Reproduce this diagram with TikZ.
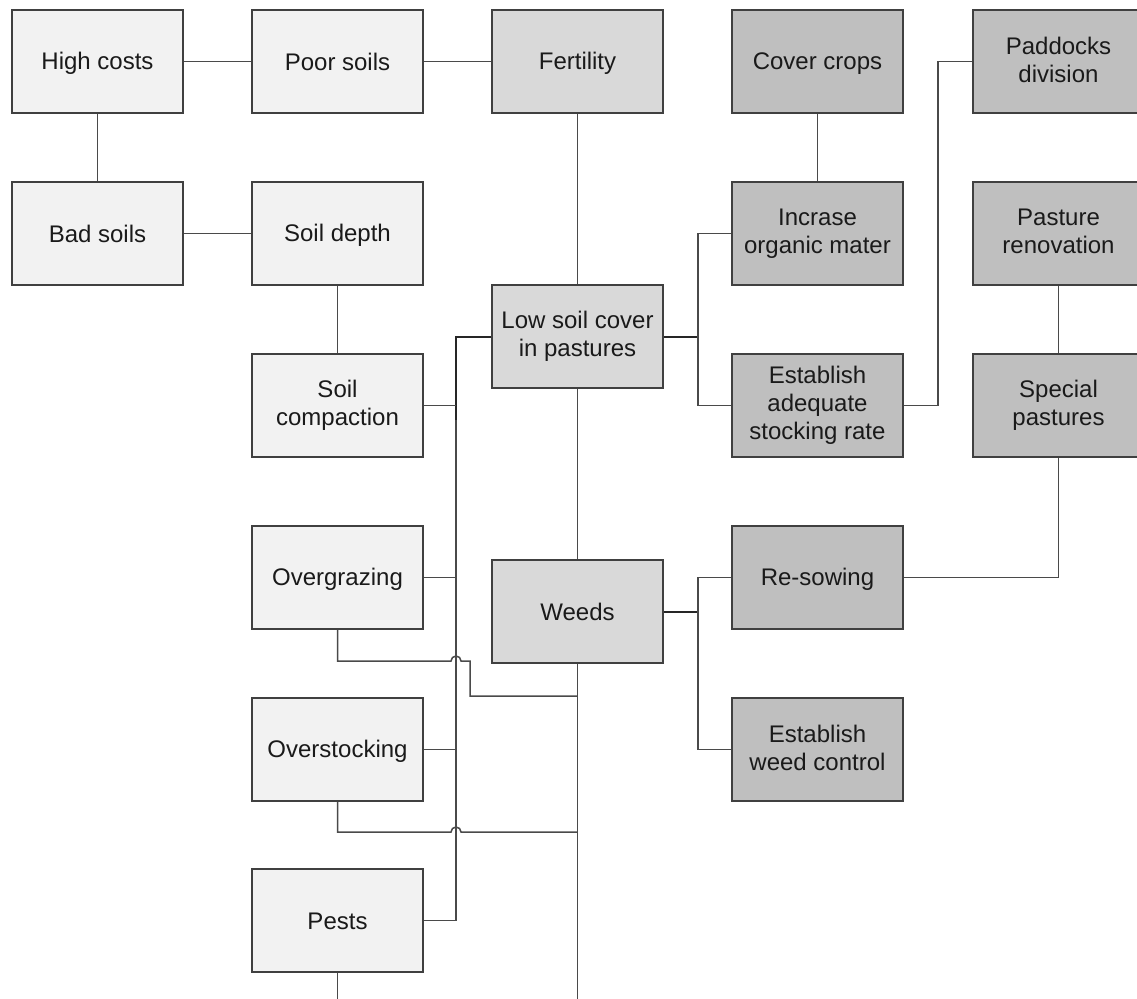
\documentclass[tikz,border=0pt]{standalone}
\usepackage{fontspec}
\setmainfont{Liberation Sans}
\definecolor{lightfill}{HTML}{F2F2F2}
\definecolor{midfill}{HTML}{D9D9D9}
\definecolor{darkfill}{HTML}{BFBFBF}
\definecolor{edge}{HTML}{404040}
\definecolor{wire}{HTML}{4A4A4A}
\definecolor{ink}{HTML}{1A1A1A}
\newcommand{\bxstrut}{\rule[-4pt]{0pt}{25.2pt}}
\tikzset{
  basebox/.style={draw=edge, line width=2pt, rectangle, minimum width=171pt, minimum height=103pt,
    inner sep=0pt, align=center, text=ink, font=\fontsize{24}{28}\selectfont,
    execute at begin node={\bxstrut}, execute at end node={\bxstrut}},
  lbox/.style={basebox, fill=lightfill},
  mbox/.style={basebox, fill=midfill},
  dbox/.style={basebox, fill=darkfill},
  wireline/.style={draw=wire, line width=1.5pt},
  heavywire/.style={draw=black!85, line width=2pt}
}
\begin{document}
\begin{tikzpicture}[x=1pt,y=-1pt]
\clip (0,0) rectangle (1137,998);
\useasboundingbox (0,0) rectangle (1137,998);
% nodes
\node[lbox] (hc) at (97.5,61.5) {High costs};
\node[lbox] (ps) at (337.5,61.5) {Poor soils};
\node[mbox] (fert) at (577.5,61.5) {Fertility};
\node[dbox] (cc) at (817.5,61.5) {Cover crops};
\node[dbox] (pd) at (1058.5,61.5) {Paddocks\\division};
\node[lbox] (bs) at (97.5,233.5) {Bad soils};
\node[lbox] (sd) at (337.5,233.5) {Soil depth};
\node[dbox] (io) at (817.5,233.5) {Incrase\\organic mater};
\node[dbox] (pr) at (1058.5,233.5) {Pasture\\renovation};
\node[mbox] (low) at (577.5,336.5) {Low soil cover\\in pastures};
\node[lbox] (sc) at (337.5,405.5) {Soil\\compaction};
\node[dbox] (ea) at (817.5,405.5) {Establish\\adequate\\stocking rate};
\node[dbox] (sp) at (1058.5,405.5) {Special\\pastures};
\node[lbox] (og) at (337.5,577.5) {Overgrazing};
\node[mbox] (weeds) at (577.5,611.5) {Weeds};
\node[dbox] (rs) at (817.5,577.5) {Re-sowing};
\node[lbox] (os) at (337.5,749.5) {Overstocking};
\node[dbox] (ewc) at (817.5,749.5) {Establish\\weed control};
\node[lbox] (pests) at (337.5,920.5) {Pests};
% coordinates
\coordinate (jl) at (456,336.5);
\coordinate (jr) at (698,336.5);
\coordinate (jw) at (698,611.5);
\coordinate (je) at (938,405.5);
\coordinate (w1) at (577.5,696);
\coordinate (w2) at (577.5,832);
\coordinate (bot1) at (577.5,1000);
\coordinate (bot2) at (337.5,1000);
% connectors
\draw[wireline] (hc) -- (ps);
\draw[wireline] (ps) -- (fert);
\draw[wireline] (hc) -- (bs);
\draw[wireline] (bs) -- (sd);
\draw[wireline] (sd) -- (sc);
\draw[wireline] (fert) -- (low);
\draw[wireline] (low) -- (weeds);
\draw[wireline] (weeds.south) -- (bot1);
\draw[wireline] (cc) -- (io);
\draw[wireline] (pr) -- (sp);
\draw[heavywire] (low.east) -- (jr);
\draw[wireline] (jr) |- (io.west);
\draw[wireline] (jr) |- (ea.west);
\draw[wireline] (ea.east) -- (je) |- (pd.west);
\draw[wireline] (sp.south) |- (rs.east);
\draw[heavywire] (weeds.east) -- (jw);
\draw[wireline] (jw) |- (rs.west);
\draw[wireline] (jw) |- (ewc.west);
\draw[heavywire] (low.west) -- (jl) -- (456,420);
\draw[wireline] (456,420) |- (pests.east);
\draw[wireline] (sc.east) -- (sc.east -| jl);
\draw[wireline] (og.east) -- (og.east -| jl);
\draw[wireline] (os.east) -- (os.east -| jl);
\draw[wireline] (og.south) -- (337.5,661) -- (451,661) arc[start angle=180,end angle=0,radius=5pt] -- (470,661) |- (w1);
\draw[wireline] (os.south) -- (337.5,832) -- (451,832) arc[start angle=180,end angle=0,radius=5pt] -- (w2);
\draw[wireline] (pests.south) -- (bot2);
\end{tikzpicture}
\end{document}
